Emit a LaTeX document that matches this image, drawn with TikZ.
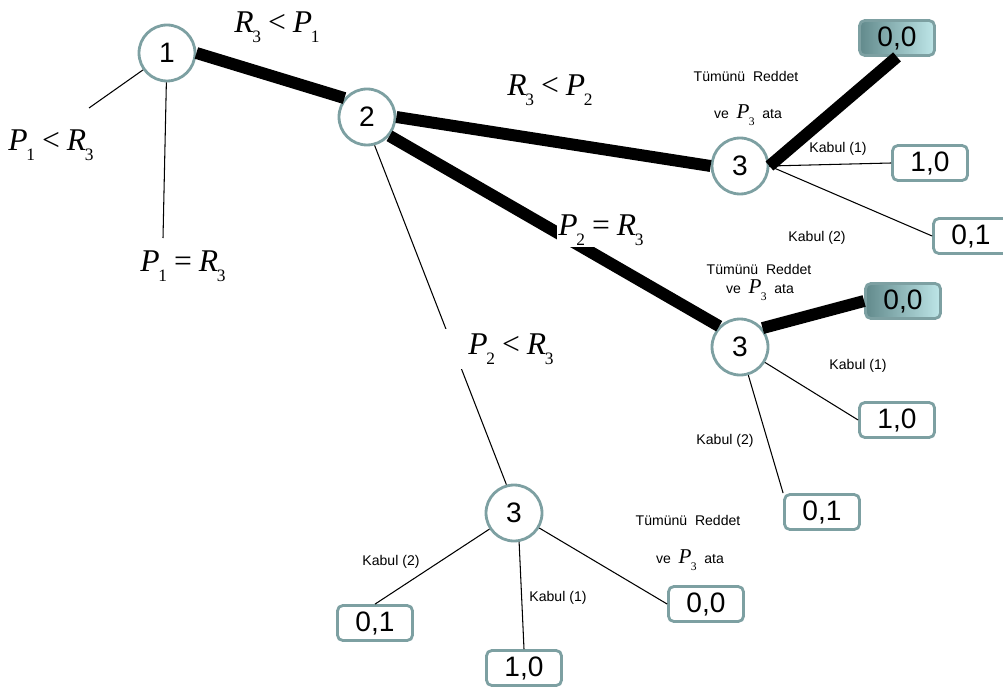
\documentclass[tikz,border=0pt]{standalone}
\usepackage[no-math]{fontspec}
\setmainfont{Liberation Sans}
\newfontfamily\tms{Liberation Serif}
\newcommand{\vr}[2]{{\itshape #1}\kern-0.04em\raisebox{-0.3em}{\scalebox{0.55}{#2}}}
\newcommand{\rel}[1]{\hspace{0.22em}#1\hspace{0.22em}}
\definecolor{rim}{RGB}{125,160,162}
\definecolor{rimdark}{RGB}{98,138,140}
\definecolor{rimlight}{RGB}{190,230,232}
\begin{document}
\begin{tikzpicture}[x=0.02cm,y=-0.02cm]
        \tikzstyle{state}=[circle,draw=rim,line width=1.6pt,fill=white,minimum size=1.12cm,inner sep=0pt,font=\fontsize{16}{19}\selectfont]
        \tikzstyle{payoff}=[rectangle,rounded corners=3pt,draw=rim,line width=1.6pt,fill=white,minimum width=1.5cm,minimum height=0.7cm,inner sep=0pt,font=\fontsize{16}{19}\selectfont]
        \tikzstyle{chosen}=[payoff,left color=rimdark,right color=rimlight]
        \tikzstyle{move}=[draw,line width=0.6pt]
        \tikzstyle{best}=[draw,line width=6.8pt]
        \tikzstyle{cond}=[font=\tms\fontsize{18}{21}\selectfont,inner sep=1pt]
        \tikzstyle{note}=[font=\fontsize{8}{9.6}\selectfont,inner sep=1pt]
        \useasboundingbox (0,0) rectangle (1003,689);
        \begin{scope}
            % decision nodes
            \node [state] (n1) at (167,53) {1};
            \node [state] (n2) at (367,117) {2};
            \node [state] (n3a) at (740,166) {3};
            \node [state] (n3b) at (740,347) {3};
            \node [state] (n3c) at (514,513) {3};
            \coordinate (c1) at (89,108);
            \coordinate (c2) at (163,238);
            % outcomes
            \node [chosen] (o1) at (897,38) {0,0};
            \node [payoff] (o2) at (930,163) {1,0};
            \node [payoff] (o3) at (971,236) {0,1};
            \node [chosen] (o4) at (903,301) {0,0};
            \node [payoff] (o5) at (897,420) {1,0};
            \node [payoff] (o6) at (822,512) {0,1};
            \node [payoff] (o7) at (375,623) {0,1};
            \node [payoff] (o8) at (524,668) {1,0};
            \node [payoff] (o9) at (706,604) {0,0};
            % branches
            \path[best] (n1.east) edge (n2.140);
            \path[move] (n1) edge (c1);
            \path[move] (n1) edge (c2);
            \path[best] (n2.east) edge (n3a.west);
            \path[best] (n2.-40) edge (n3b.135);
            \path[move] (n2.-75) edge (n3c.105);
            \path[best] (n3a.east) edge (o1.south);
            \path[move] (n3a.east) edge (o2.west);
            \path[move] (n3a.east) edge (o3.west);
            \path[best] (n3b.40) edge (o4.west);
            \path[move] (n3b) edge (o5.west);
            \path[move] (n3b) edge (o6.north west);
            \path[move] (n3c) edge (o7.north);
            \path[move] (n3c.-80) edge (o8.north);
            \path[move] (n3c) edge (o9.west);
            % conditions
            \node [cond] (l12) at (277,27) {\vr{R}{3}\rel{<}\vr{P}{1}};
            \node [cond] (l1a) at (51,145) {\vr{P}{1}\rel{<}\vr{R}{3}};
            \node [cond] (l1b) at (183,266) {\vr{P}{1}\rel{=}\vr{R}{3}};
            \node [cond] (l23a) at (550,90) {\vr{R}{3}\rel{<}\vr{P}{2}};
            \node [cond,fill=white] (l23b) at (601,230) {\vr{P}{2}\rel{=}\vr{R}{3}};
            \node [cond,fill=white,inner xsep=14pt,inner ysep=3pt] (l23c) at (511,349) {\vr{P}{2}\rel{<}\vr{R}{3}};
            % choices of player 3
            \node [note] (t1) at (746,76) {Tümünü\ \ Reddet};
            \node [note] (v1) at (748,115) {ve\ \ {\tms\fontsize{12}{14}\selectfont\vr{P}{3}}\ \ ata};
            \node [note] (k1a) at (838,149) {Kabul (1)};
            \node [note] (k2a) at (817,238) {Kabul (2)};
            \node [note] (t2) at (759,269) {Tümünü\ \ Reddet};
            \node [note] (v2) at (760,290) {ve\ \ {\tms\fontsize{12}{14}\selectfont\vr{P}{3}}\ \ ata};
            \node [note] (k1b) at (858,366) {Kabul (1)};
            \node [note] (k2b) at (725,441) {Kabul (2)};
            \node [note] (t3) at (688,520) {Tümünü\ \ Reddet};
            \node [note] (v3) at (690,560) {ve\ \ {\tms\fontsize{12}{14}\selectfont\vr{P}{3}}\ \ ata};
            \node [note] (k2c) at (391,562) {Kabul (2)};
            \node [note] (k1c) at (558,598) {Kabul (1)};
        \end{scope}
\end{tikzpicture}
\end{document}
